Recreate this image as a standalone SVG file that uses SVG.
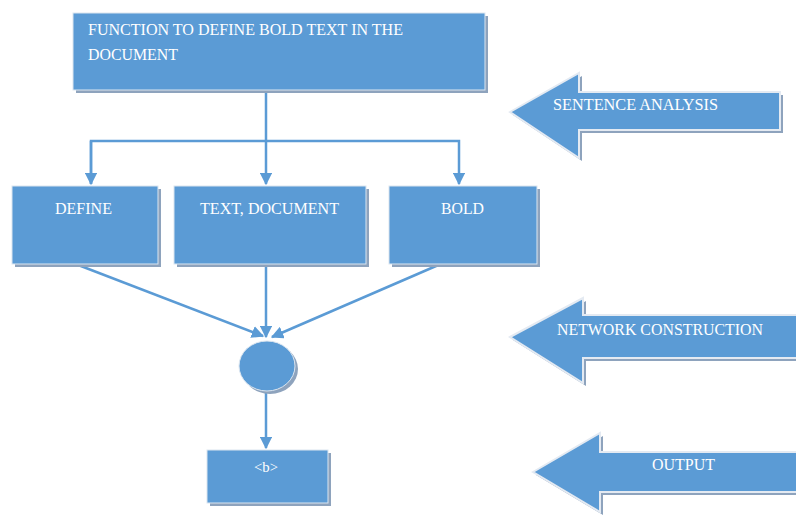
<svg xmlns="http://www.w3.org/2000/svg" width="796" height="515" viewBox="0 0 796 515">
<defs>
<style>
.box{fill:#5B9BD5;stroke:#dce6f0;stroke-width:1}
.sh{fill:#8ea3bd}
.t{font-family:"Liberation Serif","Times New Roman",serif;font-size:16px;fill:#ffffff}
.c{stroke:#5B9BD5;stroke-width:2.5;fill:none}
.arr{fill:#5B9BD5;stroke:#e4eaf2;stroke-width:2}
</style>
<marker id="ah" viewBox="0 0 10 10" refX="9" refY="5" markerWidth="5" markerHeight="5" orient="auto" markerUnits="strokeWidth">
<path d="M0,0 L10,5 L0,10 z" fill="#5B9BD5"/>
</marker>
</defs>
<rect width="796" height="515" fill="#ffffff"/>

<g id="connectors">
<path class="c" d="M266,90 V141"/>
<path class="c" d="M91,184 V141 H459 V184" marker-end="url(#ah)"/>
<path class="c" d="M91,141 V184" marker-end="url(#ah)"/>
<path class="c" d="M266,141 V184" marker-end="url(#ah)"/>
<path class="c" d="M73,263 L263,336" marker-end="url(#ah)"/>
<path class="c" d="M266,263 V337" marker-end="url(#ah)"/>
<path class="c" d="M443,263 L272,337" marker-end="url(#ah)"/>
<path class="c" d="M266,390 V448" marker-end="url(#ah)"/>
</g>

<g id="n-function">
<rect class="sh" x="76" y="16" width="412" height="77"/>
<rect class="box" x="73" y="13" width="412" height="77"/>
<text class="t" x="88" y="35" textLength="315" lengthAdjust="spacingAndGlyphs">FUNCTION TO DEFINE BOLD TEXT IN THE</text>
<text class="t" x="88" y="60" textLength="90" lengthAdjust="spacingAndGlyphs">DOCUMENT</text>
</g>

<g id="n-define">
<rect class="sh" x="15" y="189" width="146" height="78"/>
<rect class="box" x="12" y="186" width="146" height="78"/>
<text class="t" x="55" y="214" textLength="57" lengthAdjust="spacingAndGlyphs">DEFINE</text>
</g>

<g id="n-textdoc">
<rect class="sh" x="177" y="189" width="192" height="78"/>
<rect class="box" x="174" y="186" width="192" height="78"/>
<text class="t" x="200" y="214" textLength="139" lengthAdjust="spacingAndGlyphs">TEXT, DOCUMENT</text>
</g>

<g id="n-bold">
<rect class="sh" x="392" y="189" width="148" height="78"/>
<rect class="box" x="389" y="186" width="148" height="78"/>
<text class="t" x="441" y="214" textLength="43" lengthAdjust="spacingAndGlyphs">BOLD</text>
</g>

<g id="n-circle">
<ellipse class="sh" cx="270" cy="369" rx="28" ry="25"/>
<ellipse class="box" cx="267" cy="366" rx="28" ry="25"/>
</g>

<g id="n-b">
<rect class="sh" x="210" y="453" width="121" height="53"/>
<rect class="box" x="207" y="450" width="121" height="53"/>
<text class="t" x="254" y="472" textLength="24" lengthAdjust="spacingAndGlyphs" style="font-size:14px">&lt;b&gt;</text>
</g>

<g id="a-sentence">
<path class="sh" d="M513,115 L582,76 L582,95 L783,95 L783,133 L582,133 L582,161 Z"/>
<path class="arr" d="M510,112 L579,73 L579,92 L780,92 L780,130 L579,130 L579,158 Z"/>
<text class="t" x="553" y="110" textLength="165" lengthAdjust="spacingAndGlyphs">SENTENCE ANALYSIS</text>
</g>

<g id="a-network">
<path class="sh" d="M513,340 L586,301 L586,318 L800,318 L800,361 L586,361 L586,386 Z"/>
<path class="arr" d="M510,337 L583,298 L583,315 L800,315 L800,358 L583,358 L583,383 Z"/>
<text class="t" x="557" y="335" textLength="206" lengthAdjust="spacingAndGlyphs">NETWORK CONSTRUCTION</text>
</g>

<g id="a-output">
<path class="sh" d="M536,475 L603,436 L603,455 L800,455 L800,495 L603,495 L603,515 Z"/>
<path class="arr" d="M533,472 L600,433 L600,452 L800,452 L800,492 L600,492 L600,512 Z"/>
<text class="t" x="652" y="470" textLength="63" lengthAdjust="spacingAndGlyphs">OUTPUT</text>
</g>
</svg>
